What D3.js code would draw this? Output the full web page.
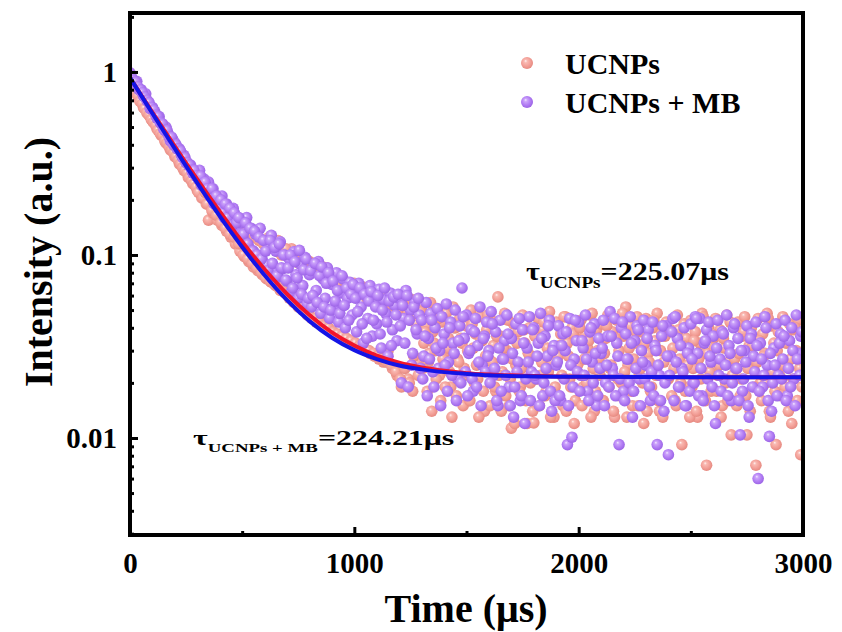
<!DOCTYPE html>
<html>
<head>
<meta charset="utf-8">
<script src="https://cdnjs.cloudflare.com/ajax/libs/d3/7.8.5/d3.min.js"></script>
<style>
  body { margin: 0; background: #fff; }
  svg text { font-family: "Liberation Serif", "Times New Roman", serif; font-weight: bold; fill: #000; }
</style>
</head>
<body>
<div id="chart"></div>
<script>
// first sweep: sampling times (µs)
var times = [
  0,10,20,30,40,50,60,70,80,90,100,110,120,130,140,150,160,170,180,190,
  200,210,220,230,240,250,260,270,280,290,300,310,320,330,340,350,360,370,380,390,
  400,410,420,430,440,450,460,470,480,490,500,510,520,530,540,550,560,570,580,590,
  600,610,620,630,640,650,660,670,680,690,700,710,720,730,740,750,760,770,780,790,
  800,810,820,830,840,850,860,870,880,890,900,910,920,930,940,950,960,970,980,990,
  1000,1010,1020,1030,1040,1050,1060,1070,1080,1090,1100,1110,1120,1130,1140,1150,1160,1170,1180,1190,
  1200,1210,1220,1230,1240,1250,1260,1270,1280,1290,1300,1310,1320,1330,1340,1350,1360,1370,1380,1390,
  1400,1410,1420,1430,1440,1450,1460,1470,1480,1490,1500,1510,1520,1530,1540,1550,1560,1570,1580,1590,
  1600,1610,1620,1630,1640,1650,1660,1670,1680,1690,1700,1710,1720,1730,1740,1750,1760,1770,1780,1790,
  1800,1810,1820,1830,1840,1850,1860,1870,1880,1890,1900,1910,1920,1930,1940,1950,1960,1970,1980,1990,
  2000,2010,2020,2030,2040,2050,2060,2070,2080,2090,2100,2110,2120,2130,2140,2150,2160,2170,2180,2190,
  2200,2210,2220,2230,2240,2250,2260,2270,2280,2290,2300,2310,2320,2330,2340,2350,2360,2370,2380,2390,
  2400,2410,2420,2430,2440,2450,2460,2470,2480,2490,2500,2510,2520,2530,2540,2550,2560,2570,2580,2590,
  2600,2610,2620,2630,2640,2650,2660,2670,2680,2690,2700,2710,2720,2730,2740,2750,2760,2770,2780,2790,
  2800,2810,2820,2830,2840,2850,2860,2870,2880,2890,2900,2910,2920,2930,2940,2950,2960,2970,2980,2990
];

// first sweep: UCNPs intensity (a.u.)
var ucnps = [
  .93,.84,.80,.78,.71,.70,.64,.63,.59,.57,.54,.53,.49,.48,.45,.44,.41,.40,.375,.37,
  .345,.34,.315,.31,.29,.285,.265,.26,.245,.24,.225,.26,.205,.23,.19,.155,.21,.17,.20,.155,
  .18,.145,.17,.135,.165,.125,.16,.115,.15,.105,.14,.098,.135,.092,.13,.086,.125,.082,.12,.078,
  .115,.074,.125,.071,.11,.068,.12,.064,.105,.062,.10,.058,.108,.055,.092,.052,.098,.050,.088,.047,
  .092,.045,.085,.043,.080,.042,.086,.040,.076,.039,.078,.037,.072,.036,.075,.035,.068,.034,.066,.033,
  .070,.032,.064,.031,.066,.030,.060,.029,.063,.028,.058,.027,.062,.026,.055,.030,.059,.024,.052,.022,
  .056,.019,.048,.061,.021,.044,.018,.051,.026,.040,.050,.033,.041,.026,.055,.038,.030,.047,.022,.043,
  .029,.048,.035,.019,.052,.040,.027,.045,.033,.024,.041,.016,.050,.031,.037,.021,.046,.034,.014,.039,
  .027,.044,.032,.018,.059,.036,.023,.048,.030,.015,.0113,.042,.025,.038,.019,.047,.033,.012,.040,.028,
  .0121,.036,.045,.022,.039,.017,.031,.049,.026,.013,.043,.028,.037,.015,.046,.033,.021,.040,.012,.035,
  .026,.044,.019,.037,.031,.047,.048,.014,.039,.027,.042,.016,.035,.047,.024,.038,.013,.044,.030,.020,
  .036,.052,.025,.041,.015,.033,.046,.022,.038,.012,.045,.029,.018,.040,.034,.048,.014,.037,.026,.043,
  .021,.039,.031,.016,.047,.027,.0092,.042,.035,.019,.044,.024,.038,.013,.033,.048,.029,.0071,.040,.018,
  .035,.045,.022,.039,.015,.031,.047,.026,.0104,.041,.028,.043,.017,.036,.046,.0104,.032,.040,.024,.0071,
  .045,.020,.037,.029,.048,.014,.041,.033,.0092,.038,.025,.046,.019,.035,.042,.012,.039,.030,.044,.0081
];

// first sweep: UCNPs + MB intensity (a.u.)
var ucnpsMb = [
  .99,.91,.89,.89,.80,.80,.74,.76,.69,.63,.64,.61,.56,.57,.52,.49,.50,.46,.42,.43,
  .41,.38,.38,.35,.35,.32,.31,.31,.28,.28,.27,.29,.24,.26,.23,.25,.21,.23,.19,.21,
  .18,.21,.16,.19,.17,.15,.18,.14,.16,.13,.15,.12,.16,.11,.14,.105,.13,.10,.14,.094,
  .12,.088,.11,.128,.080,.105,.076,.118,.084,.10,.072,.095,.063,.104,.078,.058,.089,.068,.097,.054,
  .078,.052,.088,.064,.092,.048,.074,.058,.085,.045,.069,.052,.080,.043,.062,.074,.040,.058,.071,.047,
  .064,.038,.070,.052,.033,.060,.045,.068,.036,.055,.042,.065,.031,.057,.048,.028,.062,.039,.053,.034,
  .058,.020,.045,.064,.019,.050,.029,.055,.037,.047,.044,.028,.055,.035,.048,.023,.040,.051,.030,.046,
  .037,.054,.026,.043,.033,.050,.021,.041,.066,.035,.047,.029,.039,.018,.045,.032,.052,.025,.036,.043,
  .030,.049,.022,.038,.015,.044,.027,.034,.047,.019,.035,.013,.042,.026,.016,.039,.012,.031,.046,.023,
  .040,.021,.033,.048,.017,.036,.028,.044,.014,.032,.025,.041,.016,.037,.030,.0092,.045,.0101,.027,.034,
  .043,.022,.031,.047,.018,.038,.026,.042,.015,.035,.029,.044,.020,.036,.049,.024,.045,.033,.0092,.040,
  .018,.037,.027,.046,.013,.034,.041,.021,.030,.044,.025,.039,.016,.043,.032,.0092,.022,.036,.014,.041,
  .0081,.028,.045,.046,.035,.019,.024,.040,.015,.031,.042,.020,.046,.029,.045,.017,.033,.039,.043,.026,
  .036,.012,.044,.027,.038,.021,.047,.032,.016,.040,.024,.035,.0104,.018,.030,.041,.013,.037,.028,.043,
  .0060,.033,.019,.046,.025,.0102,.014,.031,.042,.022,.037,.027,.044,.017,.034,.040,.021,.047,.029,.036
];

// second sweep, offset by 5 µs
var times2 = [
  5,15,25,35,45,55,65,75,85,95,105,115,125,135,145,155,165,175,185,195,
  205,215,225,235,245,255,265,275,285,295,305,315,325,335,345,355,365,375,385,395,
  405,415,425,435,445,455,465,475,485,495,505,515,525,535,545,555,565,575,585,595,
  605,615,625,635,645,655,665,675,685,695,705,715,725,735,745,755,765,775,785,795,
  805,815,825,835,845,855,865,875,885,895,905,915,925,935,945,955,965,975,985,995,
  1005,1015,1025,1035,1045,1055,1065,1075,1085,1095,1105,1115,1125,1135,1145,1155,1165,1175,1185,1195,
  1205,1215,1225,1235,1245,1255,1265,1275,1285,1295,1305,1315,1325,1335,1345,1355,1365,1375,1385,1395,
  1405,1415,1425,1435,1445,1455,1465,1475,1485,1495,1505,1515,1525,1535,1545,1555,1565,1575,1585,1595,
  1605,1615,1625,1635,1645,1655,1665,1675,1685,1695,1705,1715,1725,1735,1745,1755,1765,1775,1785,1795,
  1805,1815,1825,1835,1845,1855,1865,1875,1885,1895,1905,1915,1925,1935,1945,1955,1965,1975,1985,1995,
  2005,2015,2025,2035,2045,2055,2065,2075,2085,2095,2105,2115,2125,2135,2145,2155,2165,2175,2185,2195,
  2205,2215,2225,2235,2245,2255,2265,2275,2285,2295,2305,2315,2325,2335,2345,2355,2365,2375,2385,2395,
  2405,2415,2425,2435,2445,2455,2465,2475,2485,2495,2505,2515,2525,2535,2545,2555,2565,2575,2585,2595,
  2605,2615,2625,2635,2645,2655,2665,2675,2685,2695,2705,2715,2725,2735,2745,2755,2765,2775,2785,2795,
  2805,2815,2825,2835,2845,2855,2865,2875,2885,2895,2905,2915,2925,2935,2945,2955,2965,2975,2985,2995
];

var ucnps2 = [
  .86,.82,.77,.74,.69,.67,.63,.60,.58,.55,.53,.51,.48,.46,.45,.42,.41,.39,.375,.36,
  .345,.33,.315,.30,.29,.28,.265,.255,.245,.235,.22,.245,.205,.22,.19,.215,.175,.20,.165,.185,
  .15,.17,.14,.165,.13,.155,.125,.15,.115,.14,.10,.135,.095,.13,.09,.125,.085,.12,.08,.115,
  .075,.115,.072,.11,.069,.105,.066,.10,.063,.108,.06,.098,.057,.094,.054,.09,.052,.086,.049,.092,
  .046,.088,.045,.083,.043,.080,.041,.085,.040,.078,.038,.074,.037,.070,.036,.072,.035,.066,.034,.069,
  .033,.062,.032,.067,.031,.058,.030,.064,.029,.060,.028,.057,.027,.061,.026,.054,.025,.058,.023,.050,
  .021,.053,.024,.046,.020,.057,.028,.042,.022,.049,.024,.038,.018,.029,.014,.033,.021,.045,.016,.027,
  .019,.031,.023,.013,.040,.017,.026,.035,.015,.022,.030,.016,.042,.020,.025,.013,.034,.018,.028,.047,
  .015,.026,.019,.036,.022,.014,.031,.017,.044,.021,.027,.012,.033,.018,.024,.039,.016,.029,.020,.014,
  .036,.021,.015,.026,.043,.018,.023,.013,.031,.019,.017,.032,.022,.046,.014,.028,.019,.037,.016,.025,
  .040,.015,.027,.020,.034,.013,.024,.018,.030,.022,.016,.029,.041,.019,.025,.014,.035,.021,.017,.048,
  .023,.013,.031,.018,.027,.038,.015,.024,.020,.033,.014,.026,.019,.044,.022,.016,.030,.013,.036,.021,
  .028,.017,.024,.015,.039,.020,.032,.018,.025,.013,.019,.034,.014,.027,.021,.046,.016,.029,.023,.037,
  .031,.018,.025,.013,.035,.020,.016,.043,.022,.027,.015,.029,.021,.038,.017,.024,.014,.032,.019,.026,
  .034,.016,.028,.020,.045,.013,.023,.018,.030,.022,.017,.025,.033,.014,.027,.021,.040,.016,.024,.019
];

var ucnpsMb2 = [
  .95,.90,.88,.83,.80,.77,.73,.70,.68,.64,.62,.58,.57,.53,.52,.48,.48,.44,.44,.40,
  .40,.38,.37,.34,.34,.32,.31,.29,.29,.27,.26,.27,.24,.25,.23,.21,.23,.19,.21,.18,
  .20,.17,.19,.16,.18,.145,.17,.15,.16,.13,.13,.15,.115,.14,.105,.135,.10,.125,.095,.12,
  .105,.082,.12,.09,.11,.077,.115,.085,.10,.073,.085,.10,.066,.092,.075,.106,.061,.083,.095,.058,
  .082,.060,.090,.055,.077,.086,.052,.070,.080,.050,.072,.056,.064,.048,.077,.053,.066,.044,.061,.069,
  .058,.049,.066,.042,.061,.035,.056,.063,.044,.052,.060,.037,.050,.066,.043,.056,.032,.059,.047,.061,
  .041,.053,.033,.060,.044,.025,.052,.039,.058,.024,.021,.036,.017,.027,.044,.019,.031,.024,.015,.033,
  .025,.018,.040,.022,.029,.016,.034,.020,.046,.023,.017,.030,.021,.038,.019,.026,.015,.035,.023,.028,
  .020,.042,.024,.016,.031,.018,.027,.022,.037,.015,.029,.019,.023,.045,.017,.033,.021,.026,.016,.039,
  .022,.028,.015,.035,.020,.024,.041,.018,.030,.016,.026,.017,.032,.021,.038,.015,.025,.019,.044,.023,
  .018,.034,.022,.027,.016,.040,.020,.029,.017,.024,.031,.015,.025,.019,.036,.022,.017,.028,.021,.043,
  .016,.027,.020,.033,.018,.024,.039,.015,.026,.021,.035,.019,.023,.017,.030,.025,.016,.041,.020,.028,
  .022,.038,.016,.026,.019,.032,.023,.015,.029,.018,.027,.020,.045,.017,.024,.016,.034,.021,.028,.019,
  .015,.031,.022,.018,.037,.025,.017,.029,.020,.042,.024,.016,.030,.021,.026,.015,.035,.019,.023,.032,
  .018,.027,.022,.040,.016,.029,.020,.025,.017,.033,.021,.036,.016,.024,.019,.030,.015,.027,.022,.038
];

// fitted decay curves
var fitTimes = [0,50,100,150,200,250,300,350,400,450,500,600,700,800,900,1000,1100,1200,1300,1400,1500,1600,1800,2000,2500,3000];
var fitUcnps = [.9315,.7480,.6020,.4855,.3925,.3180,.2585,.2110,.1730,.1425,.1182,.0835,.0612,.0470,.0378,.0320,.0282,.0258,.0243,.0233,.0226,.0222,.0218,.0216,.0215,.0215];
var fitUcnpsMb = [.9315,.7427,.5931,.4745,.3805,.3061,.2470,.2002,.1632,.1338,.1105,.0774,.0566,.0435,.0353,.0302,.0270,.0249,.0237,.0229,.0224,.0220,.0217,.0216,.0215,.0215];

var xTicks = [0, 1000, 2000, 3000];
var xMinorTicks = [500, 1500, 2500];
var yTicks = [1, 0.1, 0.01];
var yTickLabels = ["1", "0.1", "0.01"];
var yMinorTicks = [0.003,0.004,0.005,0.006,0.007,0.008,0.009,
  0.02,0.03,0.04,0.05,0.06,0.07,0.08,0.09,
  0.2,0.3,0.4,0.5,0.6,0.7,0.8,0.9, 2];

var seriesNames = ["UCNPs", "UCNPs + MB"];

var W = 842, H = 632;
var svg = d3.select("#chart").append("svg").attr("width", W).attr("height", H);

var x = d3.scaleLinear().domain([0, 3000]).range([130, 803]);
var y = d3.scaleLog().domain([0.00295, 2.1]).range([535, 13]);

// shaded ball markers
var defs = svg.append("defs");
function ball(id, stops) {
  var g = defs.append("radialGradient").attr("id", id)
    .attr("cx", "45%").attr("cy", "45%").attr("r", "60%")
    .attr("fx", "38%").attr("fy", "32%");
  stops.forEach(function(s) {
    g.append("stop").attr("offset", s[0]).attr("stop-color", s[1]);
  });
}
ball("ballSalmon", [["0%", "#fff3f1"], ["22%", "#f9b9b2"], ["60%", "#f3a098"], ["100%", "#e3857c"]]);
ball("ballPurple", [["0%", "#f4e9ff"], ["22%", "#cba3fa"], ["60%", "#b27df4"], ["100%", "#975fe2"]]);

defs.append("clipPath").attr("id", "plotClip")
  .append("rect").attr("x", 130).attr("y", 13).attr("width", 673).attr("height", 522);

var plot = svg.append("g").attr("clip-path", "url(#plotClip)");

function drawPoints(ts, vals, fill) {
  plot.append("g").selectAll("circle")
    .data(ts.map(function(t, i) { return [t, vals[i]]; }))
    .enter().append("circle")
    .attr("cx", function(d) { return x(d[0]); })
    .attr("cy", function(d) { return y(d[1]); })
    .attr("r", 5.8)
    .attr("fill", fill);
}
drawPoints(times, ucnps, "url(#ballSalmon)");
drawPoints(times2, ucnps2, "url(#ballSalmon)");
drawPoints(times, ucnpsMb, "url(#ballPurple)");
drawPoints(times2, ucnpsMb2, "url(#ballPurple)");

var line = d3.line()
  .x(function(d) { return x(d[0]); })
  .y(function(d) { return y(d[1]); })
  .curve(d3.curveMonotoneX);

plot.append("path")
  .attr("d", line(fitTimes.map(function(t, i) { return [t, fitUcnps[i]]; })))
  .attr("fill", "none").attr("stroke", "#f2142a").attr("stroke-width", 4);
plot.append("path")
  .attr("d", line(fitTimes.map(function(t, i) { return [t, fitUcnpsMb[i]]; })))
  .attr("fill", "none").attr("stroke", "#1414e6").attr("stroke-width", 4);

// axes with inward ticks
svg.append("g").attr("transform", "translate(0,535)")
  .call(d3.axisBottom(x).tickValues(xTicks).tickSize(-8).tickPadding(17).tickFormat(d3.format("d")));
svg.append("g").attr("transform", "translate(0,535)")
  .call(d3.axisBottom(x).tickValues(xMinorTicks).tickSize(-4).tickFormat(""));
svg.append("g").attr("transform", "translate(130,0)")
  .call(d3.axisLeft(y).tickValues(yTicks).tickSize(-8).tickPadding(13)
    .tickFormat(function(d, i) { return yTickLabels[i]; }));
svg.append("g").attr("transform", "translate(130,0)")
  .call(d3.axisLeft(y).tickValues(yMinorTicks).tickSize(-4).tickFormat(""));

svg.selectAll(".domain").remove();
svg.selectAll(".tick line").attr("stroke", "#000").attr("stroke-width", 3);
svg.selectAll(".tick text").style("font-size", "29px").style("font-family", null);

// frame
svg.append("rect")
  .attr("x", 130).attr("y", 13).attr("width", 673).attr("height", 522)
  .attr("fill", "none").attr("stroke", "#000").attr("stroke-width", 4);

// axis titles
svg.append("text")
  .attr("x", 466).attr("y", 622)
  .attr("text-anchor", "middle")
  .style("font-size", "40px")
  .text("Time (μs)");

svg.append("text")
  .attr("transform", "translate(52,262) rotate(-90)")
  .attr("text-anchor", "middle")
  .style("font-size", "40px")
  .text("Intensity (a.u.)");

// legend
var legendFills = ["url(#ballSalmon)", "url(#ballPurple)"];
seriesNames.forEach(function(name, i) {
  var row = svg.append("g").attr("transform", "translate(527," + (63 + i * 39) + ")");
  row.append("circle").attr("r", 6).attr("fill", legendFills[i]);
  row.append("text").attr("x", 38).attr("y", 11).style("font-size", "30px").text(name);
});

// lifetime annotations
function lifetime(tx, ty, sx, size, subSize, sub, rest) {
  var t = svg.append("g").attr("transform", "translate(" + tx + "," + ty + ") scale(" + sx + ",1)")
    .append("text").style("font-size", size + "px");
  t.append("tspan").text("τ");
  t.append("tspan").attr("dy", Math.round(size * 0.3)).style("font-size", subSize + "px").text(sub);
  t.append("tspan").attr("dy", -Math.round(size * 0.3)).text(rest);
}
lifetime(526, 280, 1.2, 25, 16, "UCNPs", "=225.07μs");
lifetime(193, 445, 1.45, 22, 13, "UCNPs + MB", "=224.21μs");
</script>
</body>
</html>
